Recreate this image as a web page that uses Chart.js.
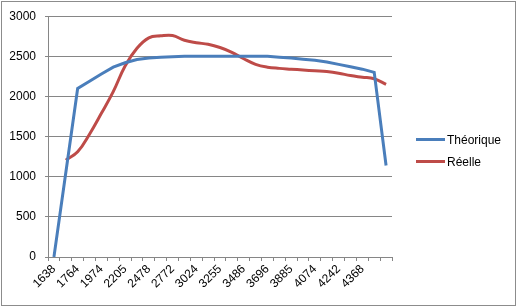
<!DOCTYPE html>
<html>
<head>
<meta charset="utf-8">
<script src="https://cdn.jsdelivr.net/npm/chart.js@4/dist/chart.umd.min.js"></script>
<style>
  body { margin: 0; background: #fff; }
  #frame { position: absolute; left: 1px; top: 1px; width: 513px; height: 303px; border: 1px solid #8c8c8c; }
  #wrap { position: absolute; left: 0; top: 0; width: 517px; height: 307px; }
  .leg { position: absolute; left: 416px; font: 12px "Liberation Sans", Arial, sans-serif; color: #000; }
  .leg span { display: inline-block; width: 29px; height: 3px; vertical-align: middle; margin-right: 2px; position: relative; top: -1px; }
</style>
</head>
<body>
<div id="frame"></div>
<div id="wrap"><canvas id="chart" width="517" height="307"></canvas></div>
<div class="leg" style="top:133px"><span style="background:#4a7ebb"></span>Théorique</div>
<div class="leg" style="top:155px"><span style="background:#be4b48"></span>Réelle</div>
<script>
// régime (tr/min) - une étiquette sur deux est affichée
const categories = [
  "1638", "1701", "1764", "1869", "1974", "2079", "2205", "2331", "2478", "2625",
  "2772", "2898", "3024", "3129", "3255", "3381", "3486", "3591", "3696", "3780",
  "3885", "3969", "4074", "4158", "4242", "4305", "4368", "4431", ""
];

const theorique = [
  0, 1050, 2100, 2190, 2280, 2365, 2420, 2460, 2480, 2490,
  2495, 2500, 2500, 2500, 2500, 2500, 2500, 2500, 2500, 2490,
  2480, 2465, 2450, 2430, 2400, 2370, 2340, 2300, 1140
];

const reelle = [
  null, 1207, 1310, 1530, 1790, 2060, 2380, 2600, 2730, 2755,
  2760, 2700, 2670, 2650, 2610, 2550, 2470, 2400, 2365, 2350,
  2340, 2330, 2320, 2310, 2290, 2260, 2240, 2220, 2150
];

const yTicks = { min: 0, max: 3000, step: 500 };

const font = { family: "'Liberation Sans', Arial, sans-serif", size: 12 };

const ctx = document.getElementById("chart").getContext("2d");
new Chart(ctx, {
  type: "line",
  data: {
    labels: categories,
    datasets: [
      {
        label: "Théorique",
        data: theorique,
        borderColor: "#4a7ebb",
        borderWidth: 3,
        pointRadius: 0,
        tension: 0,
        fill: false,
      },
      {
        label: "Réelle",
        data: reelle,
        borderColor: "#be4b48",
        borderWidth: 3,
        pointRadius: 0,
        tension: 0.4,
        fill: false,
      },
    ],
  },
  options: {
    responsive: false,
    animation: false,
    layout: { padding: { left: 8, right: 125, top: 15, bottom: 0 } },
    plugins: { legend: { display: false }, tooltip: { enabled: false } },
    scales: {
      x: {
        offset: true,
        afterFit: (scale) => { scale.height = 50; },
        grid: { display: true, drawOnChartArea: false, drawTicks: true, tickLength: 4, offset: true, color: "#868686" },
        border: { color: "#868686" },
        ticks: {
          autoSkip: false,
          minRotation: 45,
          maxRotation: 45,
          padding: 1,
          color: "#000",
          font: font,
          callback: function (value, index) {
            return index % 2 === 0 ? categories[index] : "";
          },
        },
      },
      y: {
        min: yTicks.min,
        max: yTicks.max,
        afterFit: (scale) => { scale.width = 40; },
        grid: { color: "#868686", tickLength: 3, drawTicks: true },
        border: { color: "#868686" },
        ticks: {
          stepSize: yTicks.step,
          padding: 9,
          color: "#000",
          font: font,
          callback: (value) => String(value),
        },
      },
    },
  },
});
</script>
</body>
</html>
